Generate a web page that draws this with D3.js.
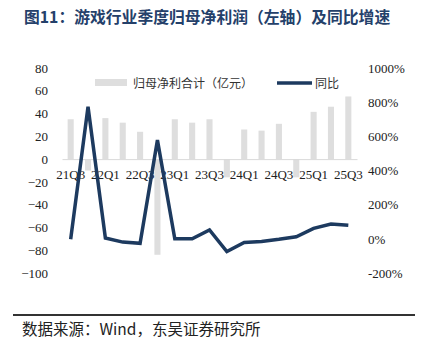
<!DOCTYPE html>
<html><head><meta charset="utf-8">
<script src="https://cdn.jsdelivr.net/npm/d3@7"></script>
<style>
html,body{margin:0;padding:0;background:#fff;}
svg{display:block;}
</style>
</head><body>
<svg id="c" width="423" height="339"></svg>
<script>
const categories = ["21Q3","21Q4","22Q1","22Q2","22Q3","22Q4","23Q1","23Q2","23Q3","23Q4","24Q1","24Q2","24Q3","24Q4","25Q1","25Q2","25Q3"];
const profit = [35, -10, 36, 32, 24, -84, 35, 32, 35, -16, 26, 25, 31, -16, 41.5, 46, 55];
const yoy = [-3, 773, 5, -19, -26, 578, 0, 0, 52, -75, -21, -15, -3, 12, 61, 87, 79];
const leftTicks = [80, 60, 40, 20, 0, -20, -40, -60, -80, -100];
const rightTicks = [1000, 800, 600, 400, 200, 0, -200];
const xLabels = ["21Q3","22Q1","22Q3","23Q1","23Q3","24Q1","24Q3","25Q1","25Q3"];

const svg = d3.select("#c");
const serif = "'Liberation Serif','Times New Roman',serif";
const cjk = "'Noto Sans CJK SC','Noto Sans',sans-serif";
const navy = "#1d3a5f";

svg.append("text").attr("x", 24).attr("y", 23)
  .attr("font-family", cjk).attr("font-weight", "bold").attr("font-size", 15.8)
  .attr("fill", "#24406a").text("图11：游戏行业季度归母净利润（左轴）及同比增速");

const x = d3.scaleBand().domain(categories).range([62, 357]).paddingInner(0.65).paddingOuter(0.325);
const yL = d3.scaleLinear().domain([-100, 80]).range([273, 68]);
const yR = d3.scaleLinear().domain([-200, 1000]).range([273, 68]);

// bars
svg.append("g").selectAll("rect").data(profit).join("rect")
  .attr("x", (d, i) => x(categories[i]))
  .attr("width", x.bandwidth())
  .attr("y", d => Math.min(yL(d), yL(0)))
  .attr("height", d => Math.abs(yL(d) - yL(0)))
  .attr("fill", "#dedede");

// zero axis line
const xAxis = d3.axisBottom(x).tickSize(0).tickFormat(d => xLabels.includes(d) ? d : "");
const gx = svg.append("g").attr("transform", `translate(0,${yL(0)})`).call(xAxis);
gx.select(".domain").attr("stroke", "#d9d9d9").attr("stroke-width", 1);
gx.selectAll("text").attr("font-family", serif).attr("font-size", 13).attr("fill", "#222").attr("dy", "0.71em").attr("y", 11);

// left axis
const gl = svg.append("g").attr("transform", "translate(48,0)")
  .call(d3.axisLeft(yL).tickValues(leftTicks).tickSize(0).tickPadding(0));
gl.select(".domain").remove();
gl.selectAll("text").attr("font-family", serif).attr("font-size", 13).attr("fill", "#222");

// right axis
const gr = svg.append("g").attr("transform", "translate(368,0)")
  .call(d3.axisRight(yR).tickValues(rightTicks).tickSize(0).tickPadding(0).tickFormat(d => d + "%"));
gr.select(".domain").remove();
gr.selectAll("text").attr("font-family", serif).attr("font-size", 13).attr("fill", "#222");

// line
const line = d3.line().x((d, i) => x(categories[i]) + x.bandwidth() / 2).y(d => yR(d));
svg.append("path").datum(yoy).attr("d", line).attr("fill", "none")
  .attr("stroke", navy).attr("stroke-width", 3.5).attr("stroke-linejoin", "miter");

// legend
const lg = svg.append("g");
lg.append("rect").attr("x", 95).attr("y", 79).attr("width", 32).attr("height", 7).attr("fill", "#dedede");
lg.append("text").attr("x", 133).attr("y", 87.5).attr("font-family", cjk).attr("font-size", 12).attr("fill", "#333").text("归母净利合计（亿元）");
lg.append("line").attr("x1", 277).attr("x2", 312).attr("y1", 83).attr("y2", 83).attr("stroke", navy).attr("stroke-width", 3.5);
lg.append("text").attr("x", 315).attr("y", 87.5).attr("font-family", cjk).attr("font-size", 12).attr("fill", "#333").text("同比");

// footer
svg.append("line").attr("x1", 13).attr("x2", 415).attr("y1", 315).attr("y2", 315).attr("stroke", "#333").attr("stroke-width", 2);
svg.append("text").attr("x", 22).attr("y", 335).attr("font-family", cjk).attr("font-size", 15.5).attr("fill", "#222").text("数据来源：Wind，东吴证券研究所");
</script>
</body></html>
